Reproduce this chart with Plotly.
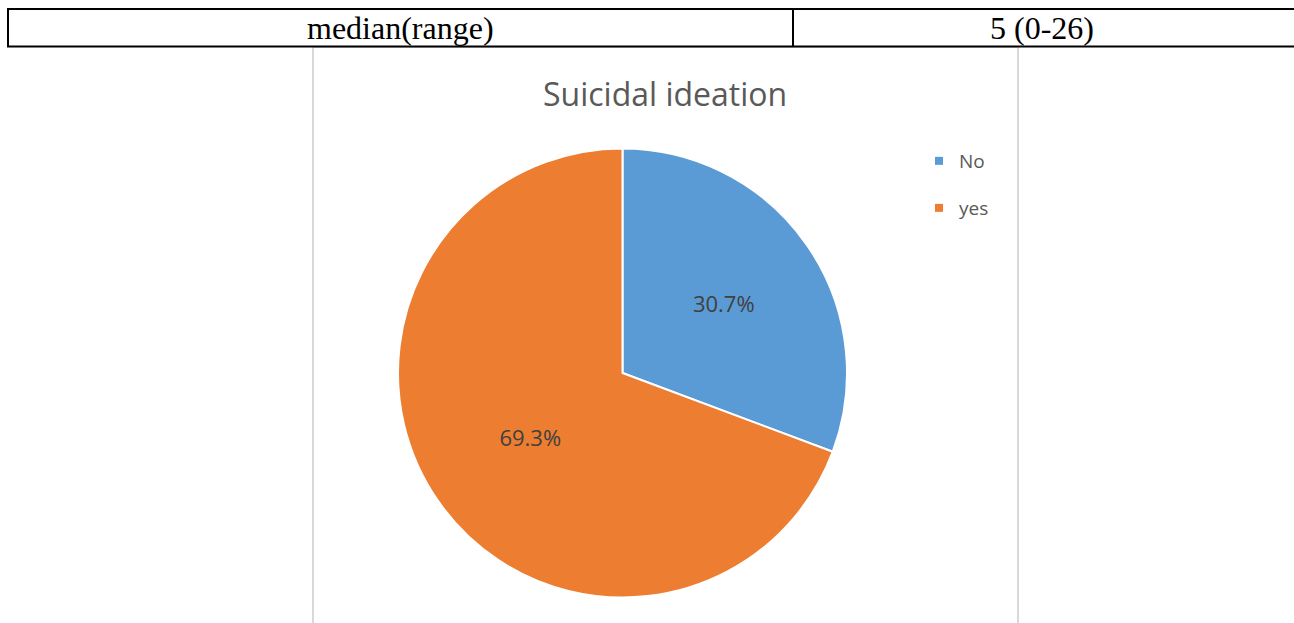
import plotly.graph_objects as go

W, H = 1294, 623

categories = ["No", "yes"]
values = [30.7, 69.3]
colors = ["#5B9BD5", "#ED7D31"]
title_text = "Suicidal ideation"
table_cells = ["median(range)", "5 (0-26)"]


def px(x):
    return x / W


def py(y):
    return 1 - y / H


fig = go.Figure()
fig.add_trace(go.Pie(
    labels=categories, values=values, sort=False, direction="clockwise", rotation=0,
    marker=dict(colors=colors, line=dict(color="white", width=2)),
    texttemplate="%{percent:.1%}", textposition="inside",
    insidetextorientation="horizontal",
    textfont=dict(family="Open Sans", size=22, color="#404040"),
    domain=dict(x=[px(398), px(847)], y=[py(598), py(148)]),
    showlegend=False, hoverinfo="label+percent",
))

# legend entries (small square icons as in the original)
for i, (c, col) in enumerate(zip(categories, colors)):
    fig.add_trace(go.Scatter(
        x=[None], y=[None], mode="markers", name=c,
        marker=dict(symbol="square", size=8, color=col),
        legend="legend" if i == 0 else "legend2",
    ))

shapes = [
    # chart frame
    dict(type="rect", xref="paper", yref="paper", x0=px(313), x1=px(1018), y0=-0.05, y1=py(47),
         line=dict(color="#D9D9D9", width=2), fillcolor="rgba(0,0,0,0)", layer="below"),
    # table row
    dict(type="line", xref="paper", yref="paper", x0=px(7), x1=1.01, y0=py(9), y1=py(9),
         line=dict(color="black", width=2)),
    dict(type="line", xref="paper", yref="paper", x0=px(7), x1=1.01, y0=py(46.5), y1=py(46.5),
         line=dict(color="black", width=2)),
    dict(type="line", xref="paper", yref="paper", x0=px(8), x1=px(8), y0=py(8), y1=py(47),
         line=dict(color="black", width=2)),
    dict(type="line", xref="paper", yref="paper", x0=px(793), x1=px(793), y0=py(8), y1=py(47),
         line=dict(color="black", width=2)),
]

annotations = [
    dict(text=title_text, x=px(665), y=py(93), xref="paper", yref="paper", showarrow=False,
         xanchor="center", yanchor="middle",
         font=dict(family="Open Sans", size=32, color="#595959")),
    dict(text=table_cells[0], x=px(400), y=py(28), xref="paper", yref="paper", showarrow=False,
         xanchor="center", yanchor="middle",
         font=dict(family="Liberation Serif", size=32, color="black")),
    dict(text=table_cells[1], x=px(1042), y=py(28), xref="paper", yref="paper", showarrow=False,
         xanchor="center", yanchor="middle",
         font=dict(family="Liberation Serif", size=32, color="black")),
]

legend_style = dict(font=dict(family="Open Sans", size=19, color="#595959"),
                    bgcolor="rgba(0,0,0,0)", borderwidth=0, xanchor="left", yanchor="middle",
                    itemclick=False, itemdoubleclick=False)

fig.update_layout(
    width=W, height=H,
    margin=dict(l=0, r=0, t=0, b=0, autoexpand=False),
    paper_bgcolor="white", plot_bgcolor="white",
    xaxis=dict(visible=False), yaxis=dict(visible=False),
    shapes=shapes, annotations=annotations,
    legend=dict(x=px(919), y=py(161), **legend_style),
    legend2=dict(x=px(919), y=py(208), **legend_style),
)

fig.write_html("out.html")
